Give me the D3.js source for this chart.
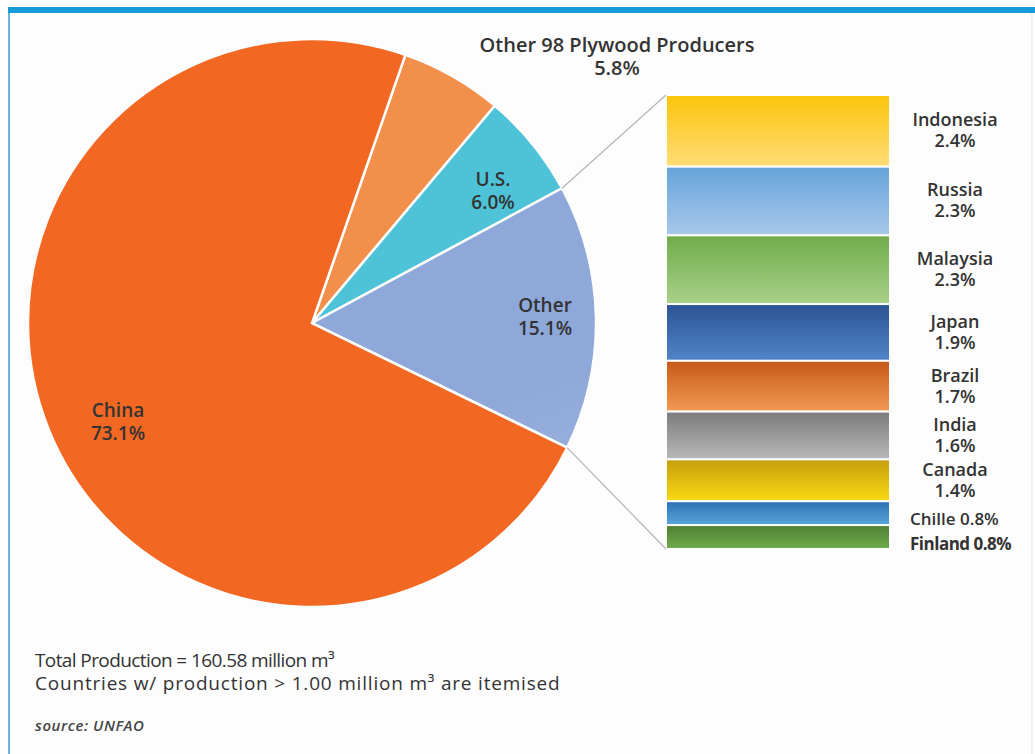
<!DOCTYPE html>
<html>
<head>
<meta charset="utf-8">
<script src="https://cdn.jsdelivr.net/npm/d3@7"></script>
<style>
  body { margin: 0; background: #fff; }
  svg { display: block; }
  text { font-family: "Open Sans", sans-serif; fill: #333; }
</style>
</head>
<body>
<svg id="chart" width="1035" height="754"></svg>
<script>
// pie slices, clockwise from the China / Other 98 edge
const pieNames = ["Other 98 Plywood Producers", "U.S.", "Other", "China"];
const pieValues = [5.8, 6.0, 15.1, 73.1];

// breakdown of "Other"
const barNames = ["Indonesia", "Russia", "Malaysia", "Japan", "Brazil", "India", "Canada", "Chille", "Finland"];
const barValues = [2.4, 2.3, 2.3, 1.9, 1.7, 1.6, 1.4, 0.8, 0.8];

const notes = [
    "Total Production = 160.58 million m\u00b3",
    "Countries w/ production > 1.00 million m\u00b3 are itemised"
];
const source = "source: UNFAO";

const svg = d3.select("#chart");
const defs = svg.append("defs");

// frame
svg.append("rect").attr("x", 0).attr("y", 0).attr("width", 1035).attr("height", 754).attr("fill", "#fff");
svg.append("rect").attr("x", 9).attr("y", 12).attr("width", 1022).attr("height", 742)
    .attr("fill", "#fdfdfd");
svg.append("line").attr("x1", 9).attr("x2", 9).attr("y1", 12).attr("y2", 754)
    .attr("stroke", "#63b9e4").attr("stroke-width", 2);
svg.append("line").attr("x1", 1032).attr("x2", 1032).attr("y1", 12).attr("y2", 754)
    .attr("stroke", "#ededed").attr("stroke-width", 1.5);
svg.append("rect").attr("x", 8).attr("y", 7).attr("width", 1027).attr("height", 6).attr("fill", "#169bd8");

// pie
const cx = 312, cy = 323, r = 284;
const pieColors = ["#f28f4b", "#4ec3d8", "#8ea8d9", "#f26722"];
const pieInner = ["#f6b07e", "#6fd0e0", "#a9bde4", "#f26722"];

pieColors.forEach((c, i) => {
    const g = defs.append("radialGradient").attr("id", "pg" + i)
        .attr("gradientUnits", "userSpaceOnUse")
        .attr("cx", cx).attr("cy", cy).attr("r", r);
    g.append("stop").attr("offset", "0%").attr("stop-color", pieInner[i]);
    g.append("stop").attr("offset", "100%").attr("stop-color", c);
});

const start = 19.2 * Math.PI / 180;
const pie = d3.pie().sort(null).value(d => d)
    .startAngle(start).endAngle(start + 2 * Math.PI);
const arcs = pie(pieValues);
const arc = d3.arc().innerRadius(0).outerRadius(r);

const pg = svg.append("g").attr("transform", `translate(${cx},${cy})`);
pg.selectAll("path")
    .data(arcs)
    .enter()
    .append("path")
    .attr("d", arc)
    .attr("fill", (d, i) => `url(#pg${i})`)
    .attr("stroke", "#fdfdfd")
    .attr("stroke-width", 2.5);

// bar column for "Other"
const barX = 666, barW = 224, barTop = 95, barBottom = 549;
const cum = [0];
barValues.forEach(v => cum.push(cum[cum.length - 1] + v));
const y = d3.scaleLinear().domain([0, cum[cum.length - 1]]).range([barTop, barBottom]);

const barTopCol = ["#fcc40a", "#67a3da", "#70ab4a", "#2b5395", "#c6591a", "#7b7b7b", "#c49e0e", "#2c71b4", "#4e7e33"];
const barBotCol = ["#fedd78", "#a8c8ea", "#a9d18a", "#5185c8", "#f29a55", "#b9b9b9", "#fbd912", "#5aa6dc", "#72ad4b"];
barValues.forEach((v, i) => {
    const g = defs.append("linearGradient").attr("id", "bg" + i)
        .attr("x1", 0).attr("x2", 0).attr("y1", 0).attr("y2", 1);
    g.append("stop").attr("offset", "0%").attr("stop-color", barTopCol[i]);
    g.append("stop").attr("offset", "100%").attr("stop-color", barBotCol[i]);
});

svg.append("g").selectAll("rect")
    .data(barValues)
    .enter()
    .append("rect")
    .attr("x", barX)
    .attr("y", (d, i) => y(cum[i]))
    .attr("width", barW)
    .attr("height", (d, i) => y(cum[i + 1]) - y(cum[i]))
    .attr("fill", (d, i) => `url(#bg${i})`)
    .attr("stroke", "#fdfdfd")
    .attr("stroke-width", 2);

// connector lines from the "Other" slice edges
const other = arcs[2];
[other.startAngle, other.endAngle].forEach((a, k) => {
    svg.append("line")
        .attr("x1", cx + r * Math.sin(a))
        .attr("y1", cy - r * Math.cos(a))
        .attr("x2", barX)
        .attr("y2", k === 0 ? barTop : barBottom)
        .attr("stroke", "#b5b5b5")
        .attr("stroke-width", 1.2);
});

// bar labels
const labX = 955;
barValues.forEach((v, i) => {
    const mid = (y(cum[i]) + y(cum[i + 1])) / 2;
    if (v < 1) {
        const last = i === barValues.length - 1;
        svg.append("text")
            .attr("x", 910).attr("y", last ? mid + 7 : mid + 6)
            .attr("dy", "0.35em")
            .style("font-size", "17px")
            .style("font-weight", last ? 700 : 600)
            .style("letter-spacing", last ? "-0.5px" : "0px")
            .text(barNames[i] + " " + v.toFixed(1) + "%");
    } else {
        svg.append("text")
            .attr("x", labX).attr("y", mid - 11)
            .attr("dy", "0.35em")
            .attr("text-anchor", "middle")
            .style("font-size", "18px")
            .style("font-weight", 600)
            .text(barNames[i]);
        svg.append("text")
            .attr("x", labX).attr("y", mid + 10)
            .attr("dy", "0.35em")
            .attr("text-anchor", "middle")
            .style("font-size", "18px")
            .style("font-weight", 600)
            .text(v.toFixed(1) + "%");
    }
});

// pie labels
const pieLab = [
    { x: 617, y: 45, size: 20 },
    { x: 493, y: 179, size: 19 },
    { x: 545, y: 305, size: 19 },
    { x: 118, y: 410, size: 19 }
];
pieLab.forEach((p, i) => {
    svg.append("text")
        .attr("x", p.x).attr("y", p.y)
        .attr("dy", "0.35em")
        .attr("text-anchor", "middle")
        .style("font-size", p.size + "px")
        .style("font-weight", 600)
        .text(pieNames[i]);
    svg.append("text")
        .attr("x", p.x).attr("y", p.y + 23)
        .attr("dy", "0.35em")
        .attr("text-anchor", "middle")
        .style("font-size", p.size + "px")
        .style("font-weight", 600)
        .text(pieValues[i].toFixed(1) + "%");
});

// notes
const noteSpacing = ["-0.6px", "0.8px"];
notes.forEach((n, i) => {
    svg.append("text")
        .attr("x", 35).attr("y", 660 + i * 23)
        .attr("dy", "0.35em")
        .style("font-size", "19px")
        .style("letter-spacing", noteSpacing[i])
        .text(n);
});
svg.append("text")
    .attr("x", 35).attr("y", 726)
    .attr("dy", "0.35em")
    .style("font-size", "15px")
    .style("font-style", "italic")
    .style("font-weight", 600)
    .style("letter-spacing", "0.6px")
    .style("fill", "#444")
    .text(source);
</script>
</body>
</html>
